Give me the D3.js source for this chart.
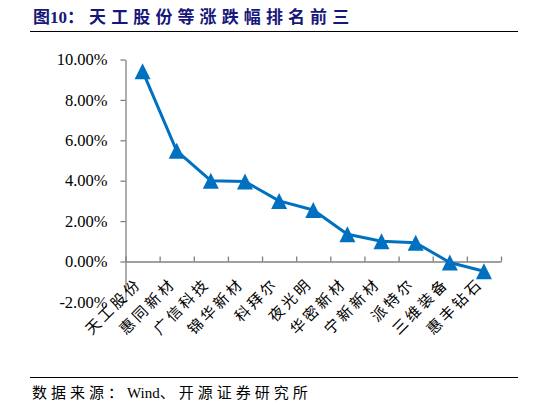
<!DOCTYPE html>
<html>
<head>
<meta charset="utf-8">
<script src="https://cdn.jsdelivr.net/npm/d3@7"></script>
<style>
  body { margin: 0; background: #fff; }
  svg { display: block; }
</style>
</head>
<body>
<script>
// 涨跌幅数据（%）
var names = ["天工股份", "惠同新材", "广信科技", "锦华新材", "科拜尔", "夜光明",
             "华密新材", "宁新新材", "派特尔", "三维装备", "惠丰钻石"];
var changes = [9.42, 5.48, 4.0, 3.96, 3.0, 2.55, 1.35, 1.0, 0.93, -0.05, -0.48];
var yTicks = [-2, 0, 2, 4, 6, 8, 10];

var W = 546, H = 405;
var serif = "'Liberation Serif', 'Times New Roman', 'Noto Sans CJK SC', serif";
var blue = "#0070C0";

var svg = d3.select("body").append("svg")
    .attr("width", W)
    .attr("height", H);

// 标题
var title = svg.append("text")
    .attr("x", 33)
    .attr("y", 23)
    .style("font-family", serif)
    .attr("font-weight", "bold")
    .attr("font-size", 17)
    .attr("fill", "#17177a");
title.append("tspan").text("图10");
title.append("tspan").attr("letter-spacing", 5.1).text("：天工股份等涨跌幅排名前三");

svg.append("line")
    .attr("x1", 30).attr("x2", 518)
    .attr("y1", 31.5).attr("y2", 31.5)
    .attr("stroke", "#000").attr("stroke-width", 1);

var x = d3.scaleBand()
    .domain(names)
    .range([125.5, 501])
    .paddingInner(0).paddingOuter(0);

var xEdge = d3.scaleLinear()
    .domain([0, names.length])
    .range([125.5, 501]);

var y = d3.scaleLinear()
    .domain([-2, 10])
    .range([301.9, 59.5]);

// y 轴
var yAxis = svg.append("g")
    .attr("transform", "translate(125.5,0)")
    .call(d3.axisLeft(y)
        .tickValues(yTicks)
        .tickSize(5)
        .tickSizeOuter(0)
        .tickPadding(13)
        .tickFormat(function(d) { return (d < 0 ? "-" : "") + Math.abs(d).toFixed(2) + "%"; }));
yAxis.select(".domain").attr("stroke", "#808080").attr("stroke-width", 1.3);
yAxis.selectAll(".tick line").attr("stroke", "#808080").attr("stroke-width", 1.3);
yAxis.selectAll(".tick text")
    .style("font-family", serif)
    .style("font-size", "16.5px")
    .attr("fill", "#000");

// x 轴（刻度在分类边界，向上）
var xAxis = svg.append("g")
    .attr("transform", "translate(0," + y(0) + ")")
    .call(d3.axisTop(xEdge)
        .tickValues(d3.range(0, names.length + 1))
        .tickSize(5)
        .tickSizeOuter(0)
        .tickFormat(""));
xAxis.select(".domain").attr("stroke", "#808080").attr("stroke-width", 1.3);
xAxis.selectAll(".tick line").attr("stroke", "#808080").attr("stroke-width", 1.3);

// 分类标签，倾斜45度
svg.append("g").selectAll("text")
    .data(names)
    .enter()
    .append("text")
    .style("font-family", serif)
    .attr("font-size", 15)
    .attr("letter-spacing", 3)
    .attr("text-anchor", "end")
    .attr("fill", "#000")
    .attr("transform", function(d) {
        return "translate(" + (x(d) + x.bandwidth() / 2) + "," + (y(0) + 23) + ") rotate(-45)";
    })
    .text(function(d) { return d; });

// 折线
var line = d3.line()
    .x(function(d, i) { return x(names[i]) + x.bandwidth() / 2; })
    .y(function(d) { return y(d); });

svg.append("path")
    .datum(changes)
    .attr("d", line)
    .attr("fill", "none")
    .attr("stroke", blue)
    .attr("stroke-width", 3)
    .attr("stroke-linejoin", "round");

// 三角形标记
var tri = 16;
svg.append("g").selectAll("path")
    .data(changes)
    .enter()
    .append("path")
    .attr("transform", function(d, i) {
        return "translate(" + (x(names[i]) + x.bandwidth() / 2) + "," + y(d) + ")";
    })
    .attr("d", "M0," + (-tri / 2) + "L" + (tri / 2) + "," + (tri / 2) + "L" + (-tri / 2) + "," + (tri / 2) + "Z")
    .attr("fill", blue);

// 数据来源
svg.append("line")
    .attr("x1", 30).attr("x2", 518)
    .attr("y1", 377.5).attr("y2", 377.5)
    .attr("stroke", "#000").attr("stroke-width", 1);

var src = svg.append("text")
    .attr("x", 32)
    .attr("y", 398)
    .style("font-family", serif)
    .attr("font-size", 15)
    .attr("fill", "#000");
src.append("tspan").attr("letter-spacing", 4).text("数据来源：");
src.append("tspan").text("Wind");
src.append("tspan").attr("letter-spacing", 4).text("、开源证券研究所");
</script>
</body>
</html>
